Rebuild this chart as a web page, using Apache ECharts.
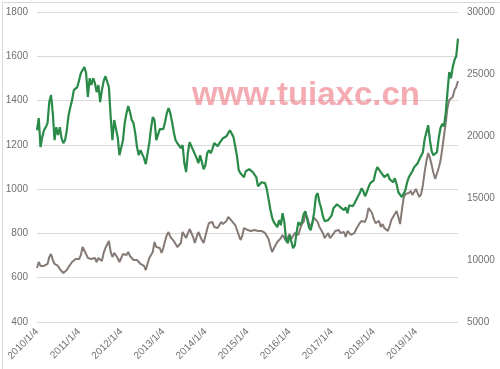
<!DOCTYPE html>
<html>
<head>
<meta charset="utf-8">
<script src="https://cdn.jsdelivr.net/npm/echarts@6/dist/echarts.min.js"></script>
<style>
html,body{margin:0;padding:0;background:#fff;}
#c{width:500px;height:369px;}
</style>
</head>
<body>
<div id="c"></div>
<script>
// Year tick labels shown on the x axis
const tickLabels = ['2010/1/4','2011/1/4','2012/1/4','2013/1/4','2014/1/4','2015/1/4','2016/1/4','2017/1/4','2018/1/4','2019/1/4'];

// Green series (left axis), semi-monthly readings 2010 - end 2019
const greenSeries = [
1266,1321,1190,1235,1266,1280,1298,1393,1425,1343,1221,1280,1244,1280,1230,1208,1221,1266,1334,1370,1402,1447,1447,1461,
1492,1524,1538,1551,1524,1416,1501,1470,1501,1479,1438,1470,1393,1447,1488,1510,1515,1461,1325,1221,1312,1312,1235,1153,
1162,1221,1298,1343,1375,1348,1312,1298,1253,1190,1153,1176,1176,1140,1113,1117,1208,1275,1325,1312,1221,1230,1271,1280,
1271,1303,1343,1366,1343,1303,1257,1221,1208,1212,1185,1199,1117,1077,1162,1212,1221,1176,1167,1140,1117,1153,1122,1090,
1108,1162,1176,1162,1181,1208,1217,1194,1208,1199,1230,1230,1239,1253,1266,1257,1235,1194,1149,1086,1072,1077,1054,1081,
1072,1090,1099,1077,1068,1054,1013,1022,1031,1022,1027,1000,955,909,873,851,846,828,860,837,891,851,769,756,
792,783,733,747,805,851,837,851,887,900,864,828,814,846,896,968,982,941,914,878,855,860,860,864,
882,914,909,932,941,918,927,905,918,891,927,936,923,936,945,968,982,1004,991,968,986,1009,1027,1022,
1040,1077,1099,1099,1077,1077,1054,1045,1068,1045,1036,1031,1049,1022,986,986,964,959,995,1031,1054,1068,1081,1099,
1095,1117,1135,1144,1167,1226,1257,1289,1221,1171,1153,1144,1167,1230,1275,1294,1284,1343,1438,1529,1501,1551,1583,1601,1680
];

// Gray series (right axis), semi-monthly readings 2010 - end 2019
const graySeries = [
9360,9840,9520,9600,9520,9680,9680,10240,10480,10000,9680,9760,9520,9270,9110,8950,9030,9190,9440,9600,9840,9840,10080,10080,
10080,10400,11050,11130,10480,10160,10000,10080,10000,10160,9840,10160,10240,9920,10570,10970,10890,11530,10650,10240,10570,10650,10160,9840,
10000,10480,10400,10400,10650,10320,10240,10000,9840,10000,9840,9680,9520,9520,9190,9190,10160,10400,10650,11450,11050,11050,10970,10570,
10970,11530,12020,12260,11860,11860,11530,11290,11050,10970,11370,12260,12260,11770,11770,12500,12660,11860,11370,11860,12260,12100,11610,11370,
11370,12500,12980,12820,13070,12660,12820,12580,12820,13070,12900,12820,13150,13470,13550,13150,13070,12820,12420,12020,11610,11940,12580,12660,
12420,12580,12340,12340,12420,12340,12340,12260,12340,12260,12180,12020,11690,11130,10650,10810,11210,11450,11450,11770,12020,12100,11530,11530,
12100,11690,11770,12180,12340,12020,12500,12900,13070,13710,13470,12980,12660,13070,13390,13230,13070,12660,12500,12180,11770,11860,12180,11770,
11770,12100,12340,12340,12420,12180,12020,12260,11860,12340,12180,12020,11940,12180,12500,12660,12980,13150,13070,13070,13470,14190,14110,13790,
13310,12980,12980,13150,12660,12900,12580,12420,12340,12740,13230,13230,13710,13950,13470,12900,14030,15000,15320,15480,15400,15570,15240,15480,
15730,15400,15080,15320,16050,17100,17980,18630,18230,17660,17020,16530,16610,17420,17980,18950,20000,21050,22260,22900,22740,23150,23710,23950,24440
];

// Category axis: semi-monthly dates
const categories = greenSeries.map(function(_, i){
  const y = 2010 + Math.floor(i / 24);
  const h = i % 24;
  const m = Math.floor(h / 2) + 1;
  const d = (h % 2 === 0) ? 4 : 19;
  return y + '/' + m + '/' + d;
});

const chart = echarts.init(document.getElementById('c'), null, {renderer:'canvas'});
const labelFont = "'Liberation Sans', Arial, sans-serif";
const plain = function(v){ return String(v); };
chart.setOption({
  animation: false,
  backgroundColor: '#ffffff',
  grid: {left: 37, right: 42, top: 12, bottom: 47, containLabel: false},
  xAxis: {
    type: 'category',
    data: categories,
    boundaryGap: false,
    axisLine: {show: false},
    axisTick: {show: false},
    splitLine: {show: false},
    axisLabel: {
      rotate: 45,
      margin: 8,
      color: '#707070',
      fontSize: 10,
      fontFamily: labelFont,
      interval: function(i){ return i % 24 === 0 && i / 24 < tickLabels.length; },
      formatter: function(v, i){ return tickLabels[Math.floor(i / 24)] || ''; }
    }
  },
  yAxis: [{
    type: 'value', min: 400, max: 1800, interval: 200, position: 'left',
    axisLine: {show: false}, axisTick: {show: false},
    splitLine: {show: true, lineStyle: {color: '#d9d9d9', width: 1}},
    axisLabel: {color: '#707070', fontSize: 10, fontFamily: labelFont, margin: 9, formatter: plain}
  },{
    type: 'value', min: 5000, max: 30000, interval: 5000, position: 'right',
    axisLine: {show: false}, axisTick: {show: false},
    splitLine: {show: false},
    axisLabel: {color: '#707070', fontSize: 10, fontFamily: labelFont, margin: 9, formatter: plain}
  }],
  series: [{
    name: 'gray', type: 'line', yAxisIndex: 1, data: graySeries,
    showSymbol: false, symbol: 'none', smooth: false,
    lineStyle: {color: '#857a75', width: 2}, z: 2
  },{
    name: 'green', type: 'line', yAxisIndex: 0, data: greenSeries,
    showSymbol: false, symbol: 'none', smooth: false,
    lineStyle: {color: '#2a8a48', width: 2.2}, z: 3
  }],
  graphic: [{
    type: 'rect', left: 0, top: 0, z: 100, silent: true,
    shape: {x: 0.5, y: 0.5, width: 499, height: 368},
    style: {fill: 'none', stroke: '#d9d9d9', lineWidth: 1}
  },{
    type: 'text', z: 100, silent: true, x: 306, y: 96,
    style: {
      text: 'www.tuiaxc.cn', fill: 'rgba(240,135,145,0.7)',
      fontSize: 33, fontWeight: 'bold', fontFamily: labelFont,
      textAlign: 'center', textVerticalAlign: 'middle'
    }
  }]
});
</script>
</body>
</html>
